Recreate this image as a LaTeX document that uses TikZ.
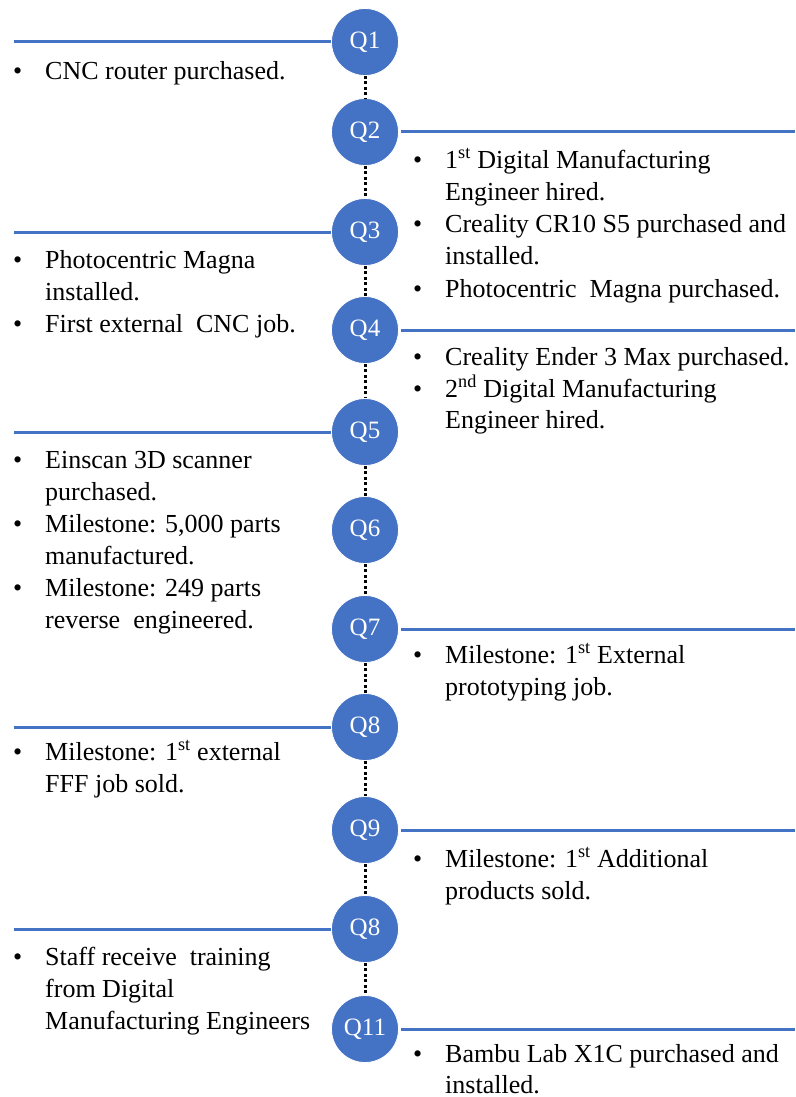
\documentclass[tikz,border=0pt]{standalone}
\usepackage{fontspec}
\setmainfont{Liberation Serif}
\definecolor{qblue}{HTML}{4472C4}
\newcommand\btxt[4]{\node[txt] (#1b) at (#2-32,#3) {\textbullet}; \node[txt] (#1) at (#2,#3) {#4};}
\newcommand\ptxt[4]{\node[txt] (#1) at (#2,#3) {#4};}
\begin{document}
\begin{tikzpicture}[x=1pt,y=-1pt,
  qnode/.style={circle, fill=qblue, draw=white, line width=0.8pt, minimum size=67pt, inner sep=0pt, text=white, font=\fontsize{25}{30}\selectfont},
  bar/.style={qblue, line width=3pt},
  dots/.style={black, line width=3pt, dash pattern=on 3pt off 2.5pt},
  txt/.style={anchor=base west, inner sep=0pt, font=\fontsize{26}{32}\selectfont},
]
\useasboundingbox (0,0) rectangle (795,1097);

% circles
\node[qnode] (q1) at (365,42) {Q1};
\node[qnode] (q2) at (365,132) {Q2};
\node[qnode] (q3) at (365,232) {Q3};
\node[qnode] (q4) at (365,330) {Q4};
\node[qnode] (q5) at (365,432) {Q5};
\node[qnode] (q6) at (365,530) {Q6};
\node[qnode] (q7) at (365,629) {Q7};
\node[qnode] (q8) at (365,727) {Q8};
\node[qnode] (q9) at (365,830) {Q9};
\node[qnode] (q10) at (365,929) {Q8};
\node[qnode] (q11) at (365,1029) {Q11};

% dotted connectors
\foreach \a/\b in {q1/q2,q2/q3,q3/q4,q4/q5,q5/q6,q6/q7,q7/q8,q8/q9,q9/q10,q10/q11}
  \draw[dots] (\a.south) -- (\b.north);

% left bars
\coordinate (l1) at (14,42);
\coordinate (l3) at (14,232);
\coordinate (l5) at (14,432);
\coordinate (l8) at (14,727);
\coordinate (l10) at (14,929);
\draw[bar] (q1.west) -- (l1);
\draw[bar] (q3.west) -- (l3);
\draw[bar] (q5.west) -- (l5);
\draw[bar] (q8.west) -- (l8);
\draw[bar] (q10.west) -- (l10);

% right bars
\coordinate (r2) at (795,132);
\coordinate (r4) at (795,330);
\coordinate (r7) at (795,629);
\coordinate (r9) at (795,830);
\coordinate (r11) at (795,1029);
\draw[bar] ([xshift=2pt]q2.east) -- (r2);
\draw[bar] ([xshift=2pt]q4.east) -- (r4);
\draw[bar] ([xshift=2pt]q7.east) -- (r7);
\draw[bar] ([xshift=2pt]q9.east) -- (r9);
\draw[bar] ([xshift=2pt]q11.east) -- (r11);

% texts
\btxt{t1a}{45}{80}{CNC router purchased.}

\btxt{t2a}{445}{168}{1\textsuperscript{st} Digital Manufacturing}
\ptxt{t2b}{445}{200}{Engineer hired.}
\btxt{t2c}{445}{232}{Creality CR10 S5 purchased and}
\ptxt{t2d}{445}{264}{installed.}
\btxt{t2e}{445}{297}{Photocentric\ \ Magna purchased.}

\btxt{t3a}{45}{268}{Photocentric Magna}
\ptxt{t3b}{45}{300}{installed.}
\btxt{t3c}{45}{332}{First external\ \ CNC job.}

\btxt{t4a}{445}{365}{Creality Ender 3 Max purchased.}
\btxt{t4b}{445}{397}{2\textsuperscript{nd} Digital Manufacturing}
\ptxt{t4c}{445}{428}{Engineer hired.}

\btxt{t5a}{45}{468}{Einscan 3D scanner}
\ptxt{t5b}{45}{500}{purchased.}
\btxt{t5c}{45}{532}{Milestone: 5,000 parts}
\ptxt{t5d}{45}{564}{manufactured.}
\btxt{t5e}{45}{596}{Milestone: 249 parts}
\ptxt{t5f}{45}{628}{reverse\ \ engineered.}

\btxt{t7a}{445}{663}{Milestone: 1\textsuperscript{st} External}
\ptxt{t7b}{445}{695}{prototyping job.}

\btxt{t8a}{45}{760}{Milestone: 1\textsuperscript{st} external}
\ptxt{t8b}{45}{792}{FFF job sold.}

\btxt{t9a}{445}{867}{Milestone: 1\textsuperscript{st} Additional}
\ptxt{t9b}{445}{899}{products sold.}

\btxt{t10a}{45}{965}{Staff receive\ \ training}
\ptxt{t10b}{45}{997}{from Digital}
\ptxt{t10c}{45}{1029}{Manufacturing Engineers}

\btxt{t11a}{445}{1062}{Bambu Lab X1C purchased and}
\ptxt{t11b}{445}{1093}{installed.}
\end{tikzpicture}
\end{document}
